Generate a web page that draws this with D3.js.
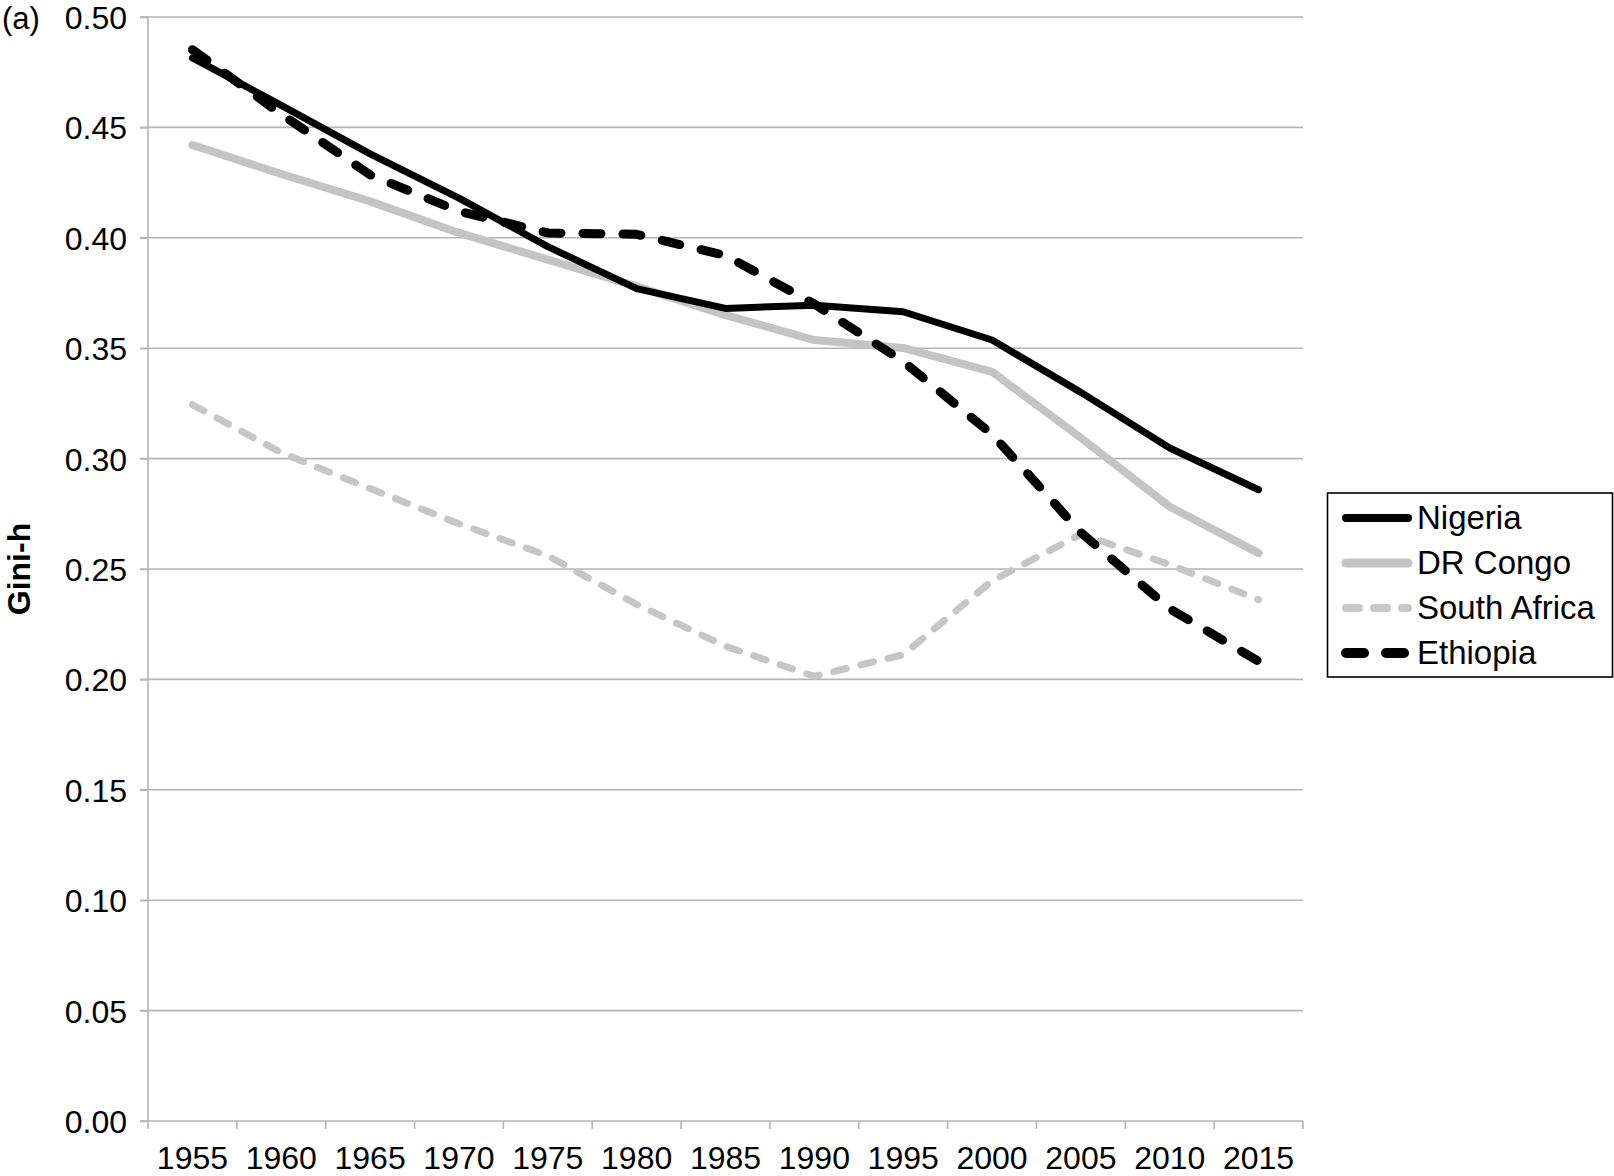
<!DOCTYPE html>
<html>
<head>
<meta charset="utf-8">
<script src="https://cdn.jsdelivr.net/npm/d3@7"></script>
<style>
  html, body { margin: 0; padding: 0; background: #fff; }
  svg { display: block; font-family: "Liberation Sans", Arial, Helvetica, sans-serif; }
</style>
</head>
<body>
<svg id="chart" width="1614" height="1176"></svg>
<script>
const years = ["1955","1960","1965","1970","1975","1980","1985","1990","1995","2000","2005","2010","2015"];
const yTicks = [0, 0.05, 0.10, 0.15, 0.20, 0.25, 0.30, 0.35, 0.40, 0.45, 0.50];

const nigeria     = [0.4815, 0.460, 0.438, 0.418, 0.396, 0.377, 0.368, 0.3695, 0.3665, 0.3537, 0.330, 0.3048, 0.2859];
const drCongo     = [0.442, 0.4289, 0.4165, 0.4022, 0.3901, 0.3780, 0.3650, 0.3537, 0.3501, 0.3393, 0.3094, 0.2782, 0.2572];
const southAfrica = [0.3244, 0.3027, 0.2864, 0.2705, 0.2560, 0.2340, 0.2150, 0.2014, 0.2112, 0.2446, 0.2658, 0.2520, 0.2361];
const ethiopia    = [0.4852, 0.4560, 0.4285, 0.4120, 0.4022, 0.4016, 0.3920, 0.3700, 0.3440, 0.3110, 0.2665, 0.2320, 0.2082];

const seriesNames = ["Nigeria", "DR Congo", "South Africa", "Ethiopia"];
const seriesValues = [nigeria, drCongo, southAfrica, ethiopia];
const seriesStyle = [
  { color: "#000000", width: 7,   dash: null },
  { color: "#c4c4c4", width: 8,   dash: null },
  { color: "#c6c6c6", width: 7,   dash: "13,15" },
  { color: "#000000", width: 9,   dash: "18,22" }
];

const svg = d3.select("#chart");
const pLeft = 148, pRight = 1303, pTop = 17, pBottom = 1121;
const gridColor = "#b5b5b5";

const x = d3.scaleBand().domain(years).range([pLeft, pRight]).paddingInner(0).paddingOuter(0);
const y = d3.scaleLinear().domain([0, 0.5]).range([pBottom, pTop]);

// gridlines
svg.append("g").selectAll("line").data(yTicks.filter(d => d > 0)).join("line")
  .attr("x1", pLeft - 8).attr("x2", pRight)
  .attr("y1", d => y(d)).attr("y2", d => y(d))
  .attr("stroke", gridColor).attr("stroke-width", 1.6);

// y axis
const yAxis = d3.axisLeft(y).tickValues(yTicks).tickFormat(d3.format(".2f")).tickSize(8).tickPadding(13);
const gy = svg.append("g").attr("transform", `translate(${pLeft},0)`).call(yAxis);
gy.select(".domain").attr("stroke", gridColor).attr("stroke-width", 1.6).attr("d", `M-8,${pTop}H0V${pBottom}H-8`);
gy.selectAll(".tick line").attr("stroke", gridColor).attr("stroke-width", 1.6);
gy.selectAll(".tick text").attr("font-size", 32).attr("fill", "#000")
  .attr("font-family", "'Liberation Sans', Arial, sans-serif").attr("dy", "0.36em").attr("x", -21);

// x axis with ticks at band boundaries
const gx = svg.append("g").attr("transform", `translate(0,${pBottom})`);
gx.append("line").attr("x1", pLeft - 8).attr("x2", pRight).attr("y1", 0).attr("y2", 0)
  .attr("stroke", gridColor).attr("stroke-width", 1.6);
const boundaries = years.map(d => x(d)).concat([pRight]);
gx.selectAll("line.tk").data(boundaries).join("line").attr("class", "tk")
  .attr("x1", d => d).attr("x2", d => d).attr("y1", 0).attr("y2", 8)
  .attr("stroke", gridColor).attr("stroke-width", 1.6);
gx.selectAll("text").data(years).join("text")
  .attr("x", d => x(d) + x.bandwidth() / 2).attr("y", 48)
  .attr("text-anchor", "middle").attr("font-size", 32).attr("fill", "#000")
  .text(d => d);

// lines
const line = d3.line().x((d, i) => x(years[i]) + x.bandwidth() / 2).y(d => y(d));
const drawOrder = [1, 2, 0, 3];
drawOrder.forEach(k => {
  const st = seriesStyle[k];
  svg.append("path").datum(seriesValues[k])
    .attr("d", line).attr("fill", "none")
    .attr("stroke", st.color).attr("stroke-width", st.width)
    .attr("stroke-linecap", "round").attr("stroke-linejoin", "round")
    .attr("stroke-dasharray", st.dash);
});

// y label
svg.append("text").attr("transform", "translate(30,569) rotate(-90)")
  .attr("text-anchor", "middle").attr("font-size", 32).attr("font-weight", "bold")
  .attr("fill", "#000").text("Gini-h");

// panel label
svg.append("text").attr("x", 2).attr("y", 29).attr("font-size", 31).attr("fill", "#000").text("(a)");

// legend
const lg = svg.append("g");
lg.append("rect").attr("x", 1327.5).attr("y", 493).attr("width", 285).attr("height", 184)
  .attr("fill", "#fff").attr("stroke", "#000").attr("stroke-width", 1.6);
const rowY = [518, 563, 608, 653];
seriesNames.forEach((name, i) => {
  const st = seriesStyle[i];
  lg.append("line").attr("x1", 1346).attr("x2", 1408).attr("y1", rowY[i]).attr("y2", rowY[i])
    .attr("stroke", st.color).attr("stroke-width", st.width + 1)
    .attr("stroke-linecap", "round").attr("stroke-dasharray", st.dash);
  lg.append("text").attr("x", 1417).attr("y", rowY[i] + 11)
    .attr("font-size", 33).attr("fill", "#000").text(name);
});
</script>
</body>
</html>
